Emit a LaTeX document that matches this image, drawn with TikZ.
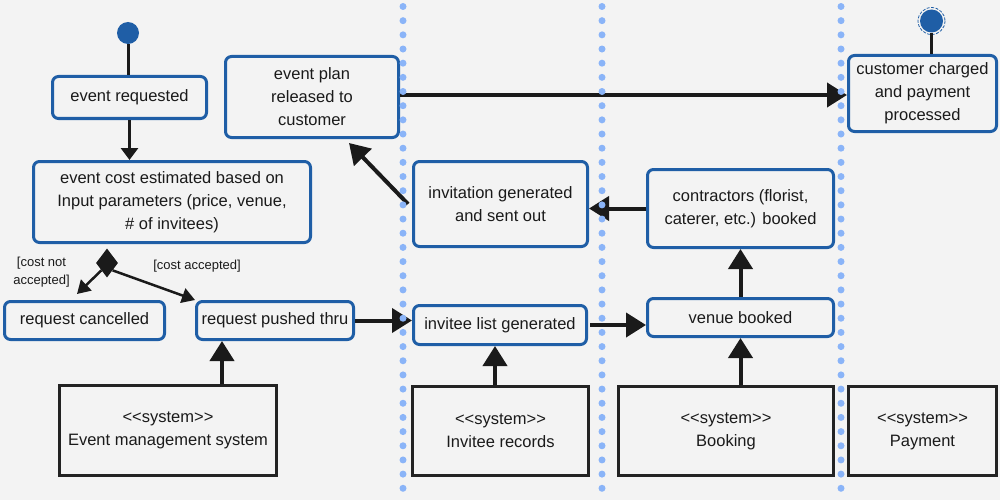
\documentclass[tikz,border=0pt]{standalone}
\usepackage{fontspec}
\setmainfont{Liberation Sans}
\usetikzlibrary{arrows.meta,shapes.geometric,calc}
\definecolor{bg}{HTML}{F3F3F3}
\definecolor{ablue}{HTML}{1F5EA6}
\definecolor{dotblue}{HTML}{8AB4F8}
\definecolor{ink}{HTML}{1A1A1A}
\definecolor{sysk}{HTML}{222222}
\newcommand\mynodefont{\fontsize{16.5}{23}\selectfont}
\newcommand\mylabfont{\fontsize{13}{18}\selectfont}
\begin{document}
\begin{tikzpicture}[x=1pt,y=-1pt,
 act/.style={draw=ablue, line width=3pt, rounded corners=6pt, fill=bg, inner sep=0pt, align=center, font=\mynodefont, text=ink},
 sys/.style={draw=sysk, line width=3pt, fill=bg, inner sep=0pt, align=center, font=\mynodefont, text=ink},
 arr/.style={draw=ink, line width=4pt, -{Triangle[length=20pt,width=24pt]}},
 arrsmall/.style={draw=ink, line width=3pt, -{Triangle[length=12pt,width=17pt]}},
 arrdia/.style={draw=ink, line width=2.5pt, -{Triangle[length=13pt,width=15pt]}},
 plainline/.style={draw=ink, line width=3pt},
 guard/.style={font=\mylabfont, text=ink, align=center, inner sep=0pt},
 lane/.style={draw=dotblue, line width=7pt, line cap=round, dash pattern=on 0pt off 14.17pt},
 initnode/.style={circle, fill=ablue, inner sep=0pt},
]
\fill[bg] (0,0) rectangle (1000,500);
\useasboundingbox (0,0) rectangle (1000,500);

% activity nodes
\node[act, minimum width=154pt, minimum height=42pt] (req) at (129.5,97.5) {event requested};
\node[act, minimum width=277pt, minimum height=81pt] (cost) at (172,202) {event cost estimated based on\\Input parameters (price, venue,\\\# of invitees)};
\node[act, minimum width=173pt, minimum height=81pt] (plan) at (312,97) {event plan\\released to\\customer};
\node[diamond, fill=ink, inner sep=0pt, minimum width=22pt, minimum height=29pt] (dia) at (107,263) {};
\node[act, minimum width=160pt, minimum height=38pt] (cancel) at (84.5,320.5) {request cancelled};
\node[act, minimum width=157pt, minimum height=38pt] (pushed) at (275,320.5) {request pushed thru};
\node[act, minimum width=173pt, minimum height=39pt] (invlist) at (500,325) {invitee list generated};
\node[act, minimum width=186pt, minimum height=38pt] (venue) at (740.5,317.5) {venue booked};
\node[act, minimum width=186pt, minimum height=78pt] (contr) at (740.5,208.5) {contractors (florist,\\caterer, etc.) booked};
\node[act, minimum width=174pt, minimum height=85pt] (invit) at (500.5,204) {invitation generated\\and sent out};
\node[act, minimum width=148pt, minimum height=76pt] (charged) at (922.5,93.5) {customer charged\\and payment\\processed};

% system nodes
\node[sys, minimum width=217pt, minimum height=90pt] (ems) at (168,430.5) {<\kern0pt<system>\kern0pt>\\Event management system};
\node[sys, minimum width=176pt, minimum height=89pt] (invrec) at (500.5,431) {<\kern0pt<system>\kern0pt>\\Invitee records};
\node[sys, minimum width=215pt, minimum height=89pt] (booking) at (726,431) {<\kern0pt<system>\kern0pt>\\Booking};
\node[sys, minimum width=148pt, minimum height=89pt] (payment) at (922.5,431) {<\kern0pt<system>\kern0pt>\\Payment};

% start / end
\node[initnode, minimum size=22pt] (start) at (128,33) {};
\node[initnode, minimum size=23pt] (end) at (931.5,21) {};
\draw[ablue, line width=0.8pt, dash pattern=on 3pt off 1.5pt] (end.center) circle (13.5);

% guards
\node[guard] (gno) at (41.5,272) {[cost not\\accepted]};
\node[guard] (gyes) at (197,266) {[cost accepted]};

% connectors
\draw[plainline] (start) -- (start |- req.north);
\draw[arrsmall] (req.south) -- (req.south |- cost.north);
\draw[arrdia] (dia.south west) -- ([xshift=74pt,yshift=6pt]cancel.north west);
\draw[arrdia] (dia.south east) -- (pushed.north west);
\draw[arr] (pushed.east) -- (pushed.east -| invlist.west);
\draw[arr] ([xshift=2pt]invlist.east) -- (invlist.east -| venue.west);
\draw[arr] ([xshift=-5pt]invlist.south |- invrec.north) -- ([xshift=-5pt]invlist.south);
\draw[arr] ([xshift=-53pt]pushed.south |- ems.north) -- ([xshift=-53pt]pushed.south);
\draw[arr] (venue.south |- booking.north) -- (venue.south);
\draw[arr] (venue.north) -- (contr.south);
\draw[arr] (contr.west) -- (contr.west -| invit.east);
\draw[arr] ([xshift=-4pt]invit.west) -- ([xshift=125pt,yshift=-4pt]plan.south west);
\draw[arr] ([yshift=2pt]plan.east) -- ([yshift=2pt]plan.east -| charged.west);
\draw[plainline] (end) -- (end |- charged.north);

% swimlane separators
\draw[lane] (403,6.5) -- (403,500);
\draw[lane] (602,6.5) -- (602,500);
\draw[lane] (841,6.5) -- (841,500);
\end{tikzpicture}
\end{document}
